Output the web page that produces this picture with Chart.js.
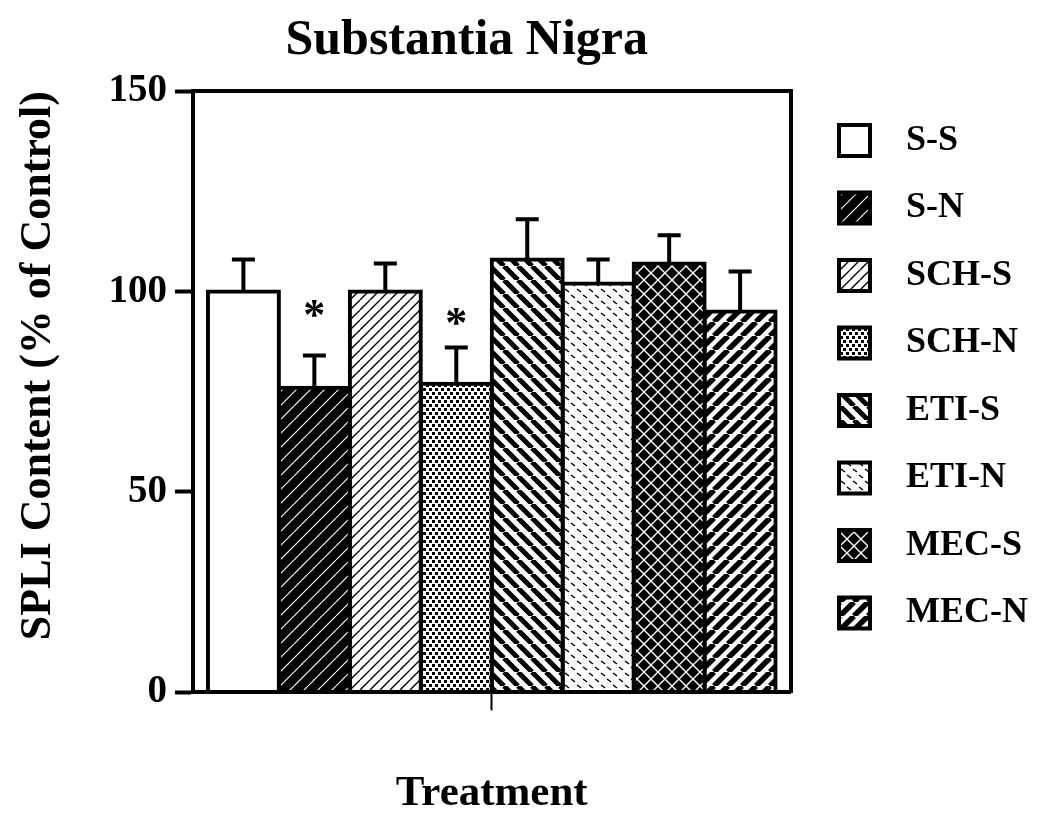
<!DOCTYPE html>
<html>
<head>
<meta charset="utf-8">
<title>Substantia Nigra</title>
<script src="https://cdn.jsdelivr.net/npm/chart.js@4.4.1/dist/chart.umd.min.js"></script>
<style>
    html, body { margin: 0; padding: 0; background: #fff; }
    canvas     { display: block; }
</style>
</head>
<body>
<canvas id="sn-chart" width="1050" height="828"></canvas>
<script>
// ───────────────────────── DATA ─────────────────────────
const groups   = ["S-S", "S-N", "SCH-S", "SCH-N", "ETI-S", "ETI-N", "MEC-S", "MEC-N"];
const means    = [100, 76, 100, 77, 108, 102, 107, 95];      // SPLI content, % of control
const sems     = [8, 8, 7, 9, 10, 6, 7, 10];                 // error bar (upper only)
const starAt   = [null, 95.5, null, 93.5, null, null, null, null]; // "*" marks (y value)
const xLabels  = [""];                                       // single "Treatment" group
const yMin = 0, yMax = 150, yStep = 50;

const FONT = "Liberation Serif";
Chart.defaults.font.family = FONT;
Chart.defaults.color       = "#000";

// ───────────────────────── FILL PATTERNS ─────────────────────────
function makePattern(w, h, bg, draw) {
    const c = document.createElement("canvas");
    c.width = w; c.height = h;
    const g = c.getContext("2d");
    g.fillStyle = bg;
    g.fillRect(0, 0, w, h);
    draw(g, w, h);
    return g.createPattern(c, "repeat");
}
function diag(g, w, h, dir) {             // dir 1 = "/", -1 = "\"
    g.beginPath();
    for (let k = -1; k <= 1; k++) {
        if (dir > 0) { g.moveTo(k * w, h); g.lineTo(k * w + w, 0); }
        else         { g.moveTo(k * w, 0); g.lineTo(k * w + w, h); }
    }
    g.stroke();
}
const fills = [
    "#fff",
    makePattern(14, 14, "#000", (g, w, h) => { g.strokeStyle = "#fff"; g.lineWidth = 1.2; diag(g, w, h, 1); }),
    makePattern(10, 10, "#fff", (g, w, h) => { g.strokeStyle = "#000"; g.lineWidth = 1.4; diag(g, w, h, 1); }),
    makePattern(6, 8, "#fff", (g) => { g.fillStyle = "#000"; g.fillRect(0, 0, 3, 3); g.fillRect(3, 4, 3, 3); }),
    makePattern(14, 14, "#fff", (g, w, h) => { g.strokeStyle = "#000"; g.lineWidth = 5; diag(g, w, h, -1); }),
    makePattern(12, 12, "#fff", (g) => {
        g.strokeStyle = "#000"; g.lineWidth = 1.5;
        g.beginPath(); g.moveTo(1, 1); g.lineTo(5, 4); g.moveTo(7, 7); g.lineTo(11, 10); g.stroke();
    }),
    makePattern(14, 14, "#000", (g, w, h) => { g.strokeStyle = "#fff"; g.lineWidth = 1.4; diag(g, w, h, 1); diag(g, w, h, -1); }),
    makePattern(14, 14, "#fff", (g, w, h) => { g.strokeStyle = "#000"; g.lineWidth = 5.5; diag(g, w, h, 1); }),
];

// ───────────────────────── ERROR BARS + STARS ─────────────────────────
const errorBars = {
    id: "errorBars",
    afterDatasetsDraw(chart) {
        const { ctx, scales: { y } } = chart;
        ctx.save();
        ctx.strokeStyle = "#000";
        ctx.lineWidth   = 4;
        groups.forEach((g, i) => {
            const bar = chart.getDatasetMeta(i).data[0];
            const top = y.getPixelForValue(means[i] + sems[i]);
            ctx.beginPath();
            ctx.moveTo(bar.x, bar.y);
            ctx.lineTo(bar.x, top);
            ctx.moveTo(bar.x - 11.5, top);
            ctx.lineTo(bar.x + 11.5, top);
            ctx.stroke();
            if (starAt[i] !== null) {
                ctx.fillStyle    = "#000";
                ctx.font         = "bold 44px " + FONT;
                ctx.textAlign    = "center";
                ctx.textBaseline = "middle";
                ctx.fillText("*", bar.x, y.getPixelForValue(starAt[i]) + 8);
            }
        });
        ctx.restore();
    }
};

// ───────────────────────── CHART ─────────────────────────
const ctx = document.getElementById("sn-chart").getContext("2d");
new Chart(ctx, {
    type: "bar",
    data: {
        labels: xLabels,
        datasets: groups.map((g, i) => ({
            label:              g,
            data:               [means[i]],
            backgroundColor:    fills[i],
            borderColor:        "#000",
            borderWidth:        4,
            borderSkipped:      false,
            inflateAmount:      2,
            categoryPercentage: 0.95,
            barPercentage:      1,
        }))
    },
    options: {
        responsive: false,
        animation:  false,
        layout: { padding: { right: 12 } },
        scales: {
            x: {
                grid:   { display: true, drawOnChartArea: false, offset: false, tickLength: 18, tickWidth: 2, tickColor: "#000" },
                border: { display: true, width: 4, color: "#000" },
                ticks:  { display: false },
                title:  { display: true, text: "Treatment", font: { size: 43, weight: "bold" }, padding: { top: 58, bottom: 8 } }
            },
            xTop: {
                type: "linear", position: "top",
                grid:   { display: false, drawTicks: false },
                border: { display: true, width: 4, color: "#000" },
                ticks:  { display: false }
            },
            y: {
                min: yMin, max: yMax,
                ticks:  { stepSize: yStep, padding: 8, font: { size: 39, weight: "bold" } },
                grid:   { display: true, drawOnChartArea: false, tickLength: 18, tickWidth: 4, tickColor: "#000" },
                border: { display: true, width: 4, color: "#000" },
                title:  { display: true, align: "end", text: "SPLI Content (% of Control)", font: { size: 44, weight: "bold" }, padding: { top: 12, bottom: 0 } },
                afterFit: s => { s.width = 193; }
            },
            yRight: {
                type: "linear", position: "right",
                grid:   { display: false, drawTicks: false },
                border: { display: true, width: 4, color: "#000" },
                ticks:  { display: false },
                afterFit: s => { s.width = 17; }
            }
        },
        plugins: {
            title: {
                display: true, fullSize: false,
                text: "Substantia Nigra    ",
                font: { size: 50, weight: "bold" },
                padding: { top: 11, bottom: 20 }
            },
            legend: {
                position: "right", align: "start", fullSize: false, maxWidth: 300,
                labels: {
                    boxWidth: 31, boxHeight: 31, padding: 31.5,
                    font: { size: 36, weight: "bold" },
                    generateLabels: chart =>
                        Chart.defaults.plugins.legend.labels.generateLabels(chart)
                            .map(l => ({ ...l, text: "  " + l.text }))
                }
            },
            tooltip: { enabled: false }
        }
    },
    plugins: [errorBars]
});
</script>
</body>
</html>
